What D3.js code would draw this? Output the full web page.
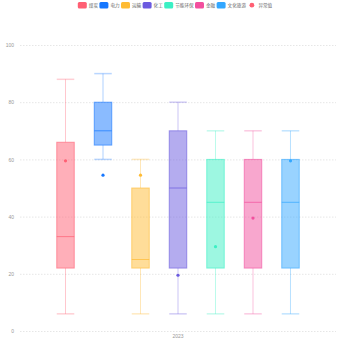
<!DOCTYPE html>
<html>
<head>
<meta charset="utf-8">
<script src="https://cdn.jsdelivr.net/npm/d3@7/dist/d3.min.js"></script>
<style>
  html, body { margin: 0; padding: 0; background: #fff; }
  svg { display: block; font-family: "Noto Sans CJK SC", "Noto Sans", sans-serif; }
</style>
</head>
<body>
<svg id="chart" width="350" height="350"></svg>
<script>
// Box plot statistics per industry for 2023
const categories = ["2023"];
const seriesNames = ["煤炭", "电力", "运输", "化工", "节能环保", "金融", "文化旅游"];
const seriesColors = ["#ff5f73", "#1677ff", "#ffbb33", "#6a5ae0", "#3bf0c4", "#f24f9e", "#33a7ff"];
const lowWhisker = [6, 60, 6, 6, 6, 6, 6];
const q1 = [22, 65, 22, 22, 22, 22, 22];
const median = [33, 70, 25, 50, 45, 45, 45];
const q3 = [66, 80, 50, 70, 60, 60, 60];
const highWhisker = [88, 90, 60, 80, 70, 70, 70];
const outliers = [59.5, 54.5, 54.5, 19.5, 29.5, 39.5, 59.5];
const yTicks = [0, 20, 40, 60, 80, 100];
const outlierLabel = "异常值";

const svg = d3.select("#chart");
const plotLeft = 20, plotRight = 336, plotTop = 45, plotBottom = 331;

const y = d3.scaleLinear().domain([0, 100]).range([plotBottom, plotTop]);
const x = d3.scaleBand().domain(categories).range([plotLeft, plotRight]);
const inner = d3.scaleBand().domain(seriesNames)
  .range([0, x.bandwidth()])
  .paddingInner(0.533).paddingOuter(0.98);

// grid lines + y labels
const yAxis = d3.axisLeft(y).tickValues(yTicks).tickSize(0).tickPadding(6);
const gy = svg.append("g").attr("transform", `translate(${plotLeft},0)`).call(yAxis);
gy.select(".domain").remove();
gy.selectAll("text").attr("fill", "#999").style("font-size", "5px");
gy.selectAll(".tick line").attr("x2", plotRight - plotLeft)
  .attr("stroke", "#e6e6e6").attr("stroke-dasharray", "1.5,1.5");

// x axis labels
const xAxis = d3.axisBottom(x).tickSize(0).tickPadding(3);
const gx = svg.append("g").attr("transform", `translate(0,${plotBottom})`).call(xAxis);
gx.select(".domain").remove();
gx.selectAll("text").attr("fill", "#999").style("font-size", "5px");

// boxes
const rows = seriesNames.map((name, i) => ({
  name, color: seriesColors[i], lo: lowWhisker[i], q1: q1[i], med: median[i],
  q3: q3[i], hi: highWhisker[i], out: outliers[i]
}));

const g = svg.append("g").attr("transform", `translate(${x(categories[0])},0)`);
const bw = inner.bandwidth();

rows.forEach(d => {
  const x0 = inner(d.name), cx = x0 + bw / 2;
  const bx = g.append("g");
  // whiskers
  bx.append("line").attr("x1", cx).attr("x2", cx).attr("y1", y(d.hi)).attr("y2", y(d.q3))
    .attr("stroke", d.color).attr("stroke-opacity", 0.35);
  bx.append("line").attr("x1", cx).attr("x2", cx).attr("y1", y(d.q1)).attr("y2", y(d.lo))
    .attr("stroke", d.color).attr("stroke-opacity", 0.35);
  // caps
  [d.hi, d.lo].forEach(v => {
    bx.append("line").attr("x1", x0).attr("x2", x0 + bw).attr("y1", y(v)).attr("y2", y(v))
      .attr("stroke", d.color).attr("stroke-opacity", 0.3).attr("stroke-width", 1.5);
  });
  // box
  bx.append("rect").attr("x", x0).attr("width", bw)
    .attr("y", y(d.q3)).attr("height", y(d.q1) - y(d.q3))
    .attr("fill", d.color).attr("fill-opacity", 0.5)
    .attr("stroke", d.color).attr("stroke-opacity", 0.6);
  // median
  bx.append("line").attr("x1", x0).attr("x2", x0 + bw).attr("y1", y(d.med)).attr("y2", y(d.med))
    .attr("stroke", d.color).attr("stroke-opacity", 0.7);
  // outlier
  bx.append("circle").attr("cx", cx).attr("cy", y(d.out)).attr("r", 1.6)
    .attr("fill", d.color);
});

// legend
const legendItems = seriesNames.map((n, i) => ({ label: n, color: seriesColors[i], type: "rect" }))
  .concat([{ label: outlierLabel, color: "#ff5f73", type: "dot" }]);
const fs = 4.6, gap = 1.4;
const lg = svg.append("g");
let lx = 0;
const placed = legendItems.map(it => {
  const w = 9 + 2 + it.label.length * fs;
  const p = { ...it, x: lx, w };
  lx += w + gap;
  return p;
});
const total = lx - gap;
lg.attr("transform", `translate(${(350 - total) / 2},5)`);
placed.forEach(p => {
  if (p.type === "rect") {
    lg.append("rect").attr("x", p.x).attr("y", -3).attr("width", 9).attr("height", 6.5)
      .attr("rx", 1.5).attr("fill", p.color);
  } else {
    lg.append("circle").attr("cx", p.x + 4.5).attr("cy", 0.2).attr("r", 2.4).attr("fill", p.color);
  }
  lg.append("text").attr("x", p.x + 11).attr("y", 0.3).attr("dominant-baseline", "middle")
    .attr("fill", "#666").style("font-size", fs + "px").text(p.label);
});
</script>
</body>
</html>
